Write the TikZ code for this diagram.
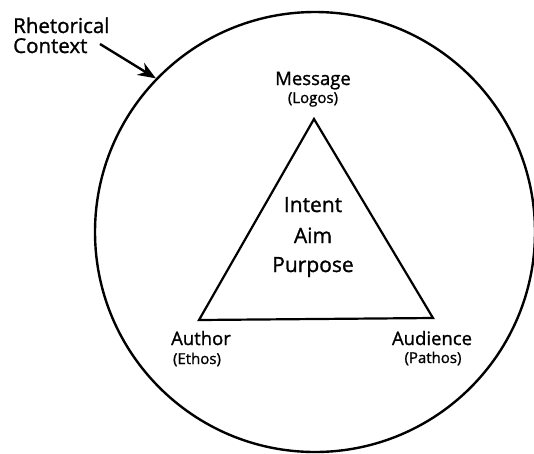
\documentclass[tikz,border=0pt]{standalone}
\usepackage{fontspec}
\setmainfont{Open Sans}[FakeBold=1.2,AutoFakeBold=1.2]
\usetikzlibrary{arrows.meta}
\tikzset{
  lbl/.style={inner sep=0pt, anchor=base, font=\fontsize{18.5}{20}\selectfont\bfseries},
  sub/.style={inner sep=0pt, anchor=base, font=\fontsize{15}{16}\selectfont\bfseries},
  mid/.style={inner sep=0pt, anchor=base, font=\fontsize{21}{22}\selectfont\bfseries},
  ctxlbl/.style={inner sep=0pt, anchor=base west, align=left, font=\fontsize{20.5}{22}\selectfont\bfseries},
  ring/.style={circle, draw, line width=2.4pt, minimum size=440pt, inner sep=0pt},
  tri/.style={line width=2.2pt, line join=miter},
  pointer/.style={line width=2.4pt, -{Stealth[length=18pt,width=14pt]}}
}
\begin{document}
\begin{tikzpicture}[x=1pt,y=-1pt]
\useasboundingbox (0,0) rectangle (534,453);
\node[ring] (ctx) at (315,232) {};
\coordinate (apex) at (314,119);
\coordinate (bl) at (199,320);
\coordinate (br) at (433,318);
\draw[tri] (apex) -- (bl) -- (br) -- cycle;
\node[lbl] (msg) at (313,85) {Message};
\node[sub] (logos) at (313,103) {(Logos)};
\node[lbl] (auth) at (201,345) {Author};
\node[sub] (ethos) at (197,364) {(Ethos)};
\node[lbl] (aud) at (432,345) {Audience};
\node[sub] (pathos) at (433,363) {(Pathos)};
\node[mid] (intent) at (313,212) {Intent};
\node[mid] (aim) at (313,243) {Aim};
\node[mid] (purpose) at (313,272) {Purpose};
\node[ctxlbl] (rhet) at (13,33) {Rhetorical};
\node[ctxlbl] (cont) at (13,53) {Context};
\coordinate (tail) at (100,44);
\draw[pointer] (tail) -- (ctx.136);
\end{tikzpicture}
\end{document}
